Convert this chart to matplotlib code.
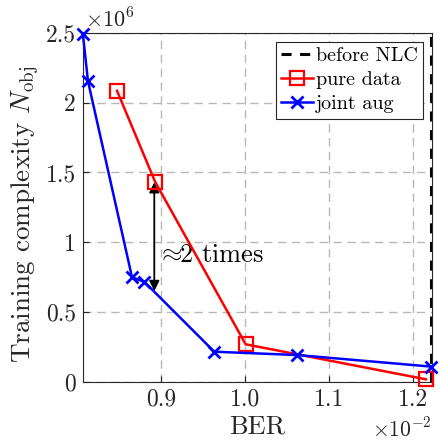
import numpy as np
import matplotlib
matplotlib.use("Agg")
import matplotlib.pyplot as plt

plt.rcParams['font.family'] = 'serif'
plt.rcParams['font.serif'] = ['cmr10']
plt.rcParams['mathtext.fontset'] = 'cm'
plt.rcParams['axes.unicode_minus'] = False
plt.rcParams['axes.formatter.use_mathtext'] = True

# BER in units of 1e-2, complexity in units of 1e6
berJoint = [0.807, 0.813, 0.8655, 0.880, 0.9634, 1.0625, 1.222]
nJoint = [2.49, 2.156, 0.748, 0.717, 0.215, 0.191, 0.108]

berPure = [0.8476, 0.8929, 1.0008, 1.2155]
nPure = [2.086, 1.434, 0.268, 0.017]

berBefore = 1.2215

arrowX = 0.892
arrowTop = 1.43
arrowBottom = 0.65

xTicks = [0.9, 1.0, 1.1, 1.2]
xTickLabels = ['0.9', '1.0', '1.1', '1.2']
yTicks = [0, 0.5, 1, 1.5, 2, 2.5]
yTickLabels = ['0', '0.5', '1', '1.5', '2', '2.5']

fig = plt.figure(figsize=(4.41, 4.46), dpi=100)
ax = fig.add_axes([0.188, 0.1442, 0.7907, 0.7818])

ax.axvline(berBefore, color='black', lw=2.2, ls=(0, (3.3, 2.8)), label='before NLC')
ax.plot(berPure, nPure, color='red', lw=1.8, marker='s', ms=9.5, mfc='none',
        mew=1.6, label='pure data', clip_on=False, zorder=4)
ax.plot(berJoint, nJoint, color='blue', lw=1.8, marker='x', ms=8.5,
        mew=2.0, label='joint aug', clip_on=False, zorder=5)

ax.annotate('', xy=(arrowX, arrowTop), xytext=(arrowX, arrowBottom),
            arrowprops=dict(arrowstyle='<|-|>', color='black', lw=1.3,
                            mutation_scale=15, shrinkA=0, shrinkB=0))
ax.text(arrowX + 0.0035, 0.91, r'$\approx\!\!$2 times', fontsize=19,
        va='center', ha='left')

ax.set_xlim(0.807, 1.2222)
ax.set_ylim(0, 2.5)
ax.set_xticks(xTicks)
ax.set_xticklabels(xTickLabels)
ax.set_yticks(yTicks)
ax.set_yticklabels(yTickLabels)
ax.tick_params(direction='in', length=4, labelsize=17, colors='#262626',
               top=False, right=False, pad=5)

ax.grid(True, color='#b8b8b8', ls=(0, (6, 4)), lw=1.0)
ax.set_axisbelow(True)
for s in ax.spines.values():
    s.set_color('#262626')
    s.set_linewidth(0.8)

ax.set_xlabel('BER', fontsize=19, color='#262626', labelpad=3)
ax.set_ylabel(r'Training complexity $N_{\mathrm{obj}}$', fontsize=19.5,
              color='#262626')
ax.yaxis.set_label_coords(-0.118, 0.48)

ax.text(1.0, -0.135, r'$\times10^{-2}$', transform=ax.transAxes, fontsize=15.5,
        ha='right', va='center', color='#262626')
ax.text(0.005, 1.04, r'$\times10^{6}$', transform=ax.transAxes, fontsize=16,
        ha='left', va='center', color='#262626')

leg = ax.legend(loc='upper right', fontsize=14.5, framealpha=1, fancybox=False,
                edgecolor='#262626', handlelength=1.55, handletextpad=0.15,
                borderpad=0.25, labelspacing=0.3, borderaxespad=0.45)
leg.get_frame().set_linewidth(0.8)

fig.savefig('out.png', dpi=100)
